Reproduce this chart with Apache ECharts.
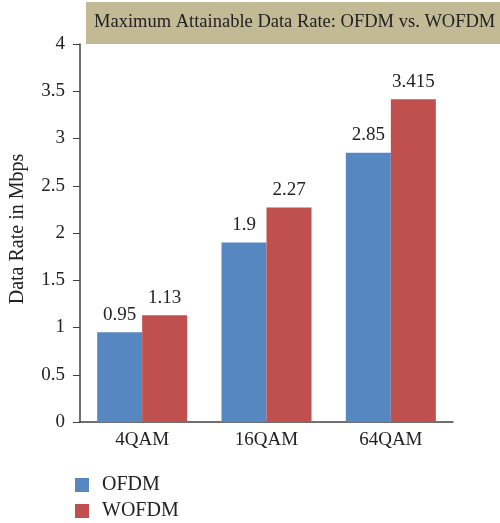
<!DOCTYPE html>
<html><head><meta charset="utf-8">
<script src="https://cdn.jsdelivr.net/npm/echarts@6/dist/echarts.min.js"></script>
<style>html,body{margin:0;padding:0;background:#fff}#c{width:500px;height:523px}</style>
</head><body><div id="c"></div>
<script>
var categories = ['4QAM', '16QAM', '64QAM'];
var ofdm = [0.95, 1.9, 2.85];
var wofdm = [1.13, 2.27, 3.415];
var yTicks = [0, 0.5, 1, 1.5, 2, 2.5, 3, 3.5, 4];
var F = '"Liberation Serif", "DejaVu Serif", serif';
var chart = echarts.init(document.getElementById('c'), null, {renderer: 'canvas'});
var lbl = {show: true, position: 'top', distance: 8, color: '#222', fontFamily: F, fontSize: 19};
chart.setOption({
  animation: false,
  graphic: [{
    type: 'rect', left: 86, top: 2, shape: {width: 414, height: 42},
    style: {fill: '#c2b995'}, z: 0
  }, {
    type: 'text', left: 94, top: 13,
    style: {text: 'Maximum Attainable Data Rate: OFDM vs. WOFDM', fill: '#222', font: '18.5px ' + F}, z: 1
  }],
  legend: {
    orient: 'vertical', left: 75, top: 475, padding: 0, itemWidth: 14, itemHeight: 14, itemGap: 6,
    icon: 'rect', height: 48,
    textStyle: {fontFamily: F, fontSize: 20, lineHeight: 20, color: '#222', padding: [0, 0, 0, 8]},
    data: ['OFDM', 'WOFDM']
  },
  grid: {left: 79, right: 47, top: 44, bottom: 101, containLabel: false},
  xAxis: {
    type: 'category', data: categories,
    axisLine: {lineStyle: {color: '#404040', width: 1.5}},
    axisTick: {show: false},
    axisLabel: {fontFamily: F, fontSize: 19, color: '#222', margin: 9}
  },
  yAxis: {
    type: 'value', min: 0, max: 4, interval: 0.5,
    name: 'Data Rate in Mbps', nameLocation: 'middle', nameGap: 52,
    nameTextStyle: {fontFamily: F, fontSize: 20, color: '#222', padding: [0, 0, 0, 8]},
    axisLine: {show: true, lineStyle: {color: '#404040', width: 1.5}},
    axisTick: {show: true, inside: false, length: 7, lineStyle: {color: '#404040'}},
    splitLine: {show: false},
    axisLabel: {fontFamily: F, fontSize: 19, color: '#222', margin: 15,
      formatter: function (v) { return yTicks.indexOf(v) >= 0 ? String(v) : ''; }}
  },
  series: [
    {name: 'OFDM', type: 'bar', data: ofdm, barWidth: 45, barGap: '0%',
     itemStyle: {color: '#5787c1'}, label: lbl},
    {name: 'WOFDM', type: 'bar', data: wofdm, barWidth: 45, barGap: '0%',
     itemStyle: {color: '#c0504d'}, label: lbl}
  ]
});
</script></body></html>
